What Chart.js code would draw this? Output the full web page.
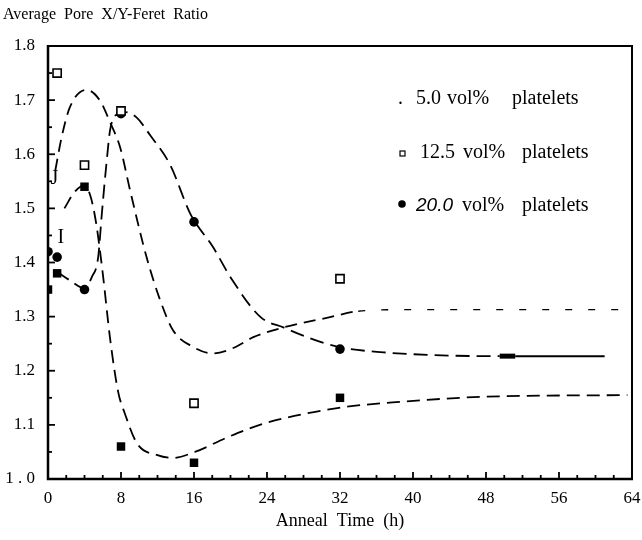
<!DOCTYPE html>
<html>
<head>
<meta charset="utf-8">
<script src="https://cdn.jsdelivr.net/npm/chart.js@4.4.0/dist/chart.umd.min.js"></script>
<style>
  html, body { margin: 0; padding: 0; background: #fff; }
  canvas { display: block; }
</style>
</head>
<body>
<canvas id="c" width="642" height="540"></canvas>
<script>
// ---- data ----
const xTickValues = [0, 8, 16, 24, 32, 40, 48, 56, 64];
const yTickLabels = ['1 . 0', '1.1', '1.2', '1.3', '1.4', '1.5', '1.6', '1.7', '1.8'];

// measured points
const time5 = [0, 1, 4, 8, 16, 32];
const ratio5 = [1.35, 1.38, 1.54, 1.06, 1.03, 1.15];
const time125 = [1, 4, 8, 16, 32];
const ratio125 = [1.75, 1.58, 1.68, 1.14, 1.37];
const time20 = [0, 1, 4, 8, 16, 32];
const ratio20 = [1.42, 1.41, 1.35, 1.675, 1.475, 1.24];

// fitted (dashed) curves
const fitTime125 = [0.8, 1.5, 2.4, 4.2, 5.7, 6.8, 7.9, 9.0, 10.8, 12.3, 13.7, 15.9, 18.1, 20.3, 22.5, 25.8, 30.9, 34, 40, 63];
const fit125 = [1.57, 1.632, 1.687, 1.719, 1.699, 1.659, 1.613, 1.533, 1.41, 1.33, 1.275, 1.244, 1.232, 1.242, 1.262, 1.28, 1.299, 1.31, 1.313, 1.313];
const fitTime20 = [1, 2.4, 4, 4.8, 5.5, 5.9, 6.4, 6.8, 7.4, 8.4, 9.7, 11.2, 13.4, 15.6, 18.1, 20.1, 23.3, 25.8, 28.4, 31.8, 36.8, 44, 49.5, 51.2, 61];
const fit20 = [1.383, 1.367, 1.352, 1.373, 1.41, 1.49, 1.582, 1.644, 1.672, 1.678, 1.668, 1.635, 1.58, 1.49, 1.428, 1.37, 1.299, 1.28, 1.262, 1.244, 1.234, 1.228, 1.227, 1.227, 1.227];
const fitTime5 = [1.8, 2.9, 4, 4.7, 5.3, 6, 6.8, 7.7, 8.4, 9.75, 12, 13.7, 16.1, 19.8, 23.8, 31.7, 39, 47.9, 63.5];
const fit5 = [1.5, 1.53, 1.543, 1.52, 1.47, 1.38, 1.26, 1.16, 1.122, 1.066, 1.044, 1.039, 1.05, 1.078, 1.103, 1.131, 1.143, 1.152, 1.155];

const titleText = 'Average  Pore  X/Y-Feret  Ratio';
const xTitle = 'Anneal  Time  (h)';

const pts = (xs, ys) => xs.map((x, i) => ({ x: x, y: ys[i] }));
const SERIF = '"Liberation Serif", "Times New Roman", serif';

const decor = {
  id: 'decor',
  afterDatasetsDraw(chart) {
    const ctx = chart.ctx;
    const a = chart.chartArea;
    const xs = chart.scales.x, ys = chart.scales.y;
    ctx.save();
    ctx.strokeStyle = '#000';
    ctx.lineCap = 'butt';
    // frame
    ctx.lineWidth = 2;
    ctx.beginPath();
    ctx.moveTo(a.left, a.top); ctx.lineTo(a.right, a.top); ctx.lineTo(a.right, a.bottom);
    ctx.stroke();
    ctx.lineWidth = 2.5;
    ctx.beginPath();
    ctx.moveTo(a.left, a.top - 1); ctx.lineTo(a.left, a.bottom); ctx.lineTo(a.right + 1, a.bottom);
    ctx.stroke();
    // inward ticks
    ctx.lineWidth = 1.8;
    for (let k = 0; k <= 16; k++) {
      const v = 1 + k * 0.05;
      const y = ys.getPixelForValue(v);
      const len = (k % 2 === 0) ? 7 : 4;
      ctx.beginPath(); ctx.moveTo(a.left, y); ctx.lineTo(a.left + len, y); ctx.stroke();
    }
    for (let t = 0; t <= 64; t += 2) {
      const x = xs.getPixelForValue(t);
      const len = (t % 8 === 0) ? 7 : 4;
      ctx.beginPath(); ctx.moveTo(x, a.bottom); ctx.lineTo(x, a.bottom - len); ctx.stroke();
    }
    // title
    ctx.fillStyle = '#000';
    ctx.textBaseline = 'alphabetic';
    ctx.textAlign = 'left';
    ctx.font = '16px ' + SERIF;
    ctx.fillText(titleText, 3, 19);
    // stray letters in the plot
    ctx.font = '20px ' + SERIF;
    ctx.textAlign = 'center';
    ctx.textBaseline = 'middle';
    ctx.fillText('J', xs.getPixelForValue(0.7), ys.getPixelForValue(1.555));
    ctx.fillText('I', xs.getPixelForValue(1.4), ys.getPixelForValue(1.446));
    // legend
    ctx.textAlign = 'left';
    ctx.textBaseline = 'alphabetic';
    const f = '20px ' + SERIF;
    ctx.font = f;
    ctx.fillText('.', 398, 104);
    ctx.fillText('5.0', 416, 104);
    ctx.fillText('vol%', 447, 104);
    ctx.fillText('platelets', 512, 104);
    // small open square
    ctx.lineWidth = 1.2;
    ctx.fillStyle = '#fff';
    ctx.fillRect(400, 151, 5, 5);
    ctx.strokeRect(400, 151, 5, 5);
    ctx.fillStyle = '#000';
    ctx.fillText('12.5', 420, 158);
    ctx.fillText('vol%', 463, 158);
    ctx.fillText('platelets', 522, 158);
    // filled dot
    ctx.beginPath(); ctx.arc(402, 204, 3.8, 0, Math.PI * 2); ctx.fill();
    ctx.font = 'italic 19px "Liberation Sans", Arial, sans-serif';
    ctx.fillText('20.0', 416, 211);
    ctx.font = f;
    ctx.fillText('vol%', 462, 211);
    ctx.fillText('platelets', 522, 211);
    ctx.restore();
  }
};

new Chart(document.getElementById('c'), {
  type: 'scatter',
  data: {
    datasets: [
      { label: '12.5 vol% platelets', data: pts(time125, ratio125), pointStyle: 'rect', pointRadius: 5.8,
        backgroundColor: '#fff', borderColor: '#000', borderWidth: 1.6, showLine: false },
      { label: '5.0 vol% platelets', data: pts(time5, ratio5), pointStyle: 'rect', pointRadius: 6,
        backgroundColor: '#000', borderColor: '#000', borderWidth: 0, showLine: false },
      { label: '20.0 vol% platelets', data: pts(time20, ratio20), pointStyle: 'circle', pointRadius: 4.8,
        backgroundColor: '#000', borderColor: '#000', borderWidth: 0, showLine: false },
      { label: 'fit 12.5', data: pts(fitTime125, fit125), showLine: true, pointRadius: 0,
        borderColor: '#000', borderWidth: 1.8, cubicInterpolationMode: 'monotone', fill: false,
        segment: { borderDash: c => (c.p0.parsed.x >= 34 ? [7, 16] : [12, 7]), borderWidth: c => (c.p0.parsed.x >= 34 ? 1.4 : 1.8) } },
      { label: 'fit 20.0', data: pts(fitTime20, fit20), showLine: true, pointRadius: 0,
        borderColor: '#000', borderWidth: 1.8, cubicInterpolationMode: 'monotone', fill: false,
        segment: {
          borderDash: c => (c.p0.parsed.x >= 49.5 ? [] : [14, 7]),
          borderWidth: c => (c.p0.parsed.x >= 51 ? 2 : (c.p0.parsed.x >= 49.5 ? 5 : 1.8))
        } },
      { label: 'fit 5.0', data: pts(fitTime5, fit5), showLine: true, pointRadius: 0,
        borderColor: '#000', borderWidth: 1.8, borderDash: [13, 7], cubicInterpolationMode: 'monotone', fill: false }
    ]
  },
  options: {
    responsive: false,
    animation: false,
    devicePixelRatio: 1,
    layout: { padding: { left: 0, right: 10, top: 46, bottom: 0 } },
    plugins: { legend: { display: false }, tooltip: { enabled: false } },
    scales: {
      x: {
        type: 'linear', min: 0, max: 64,
        afterBuildTicks: s => { s.ticks = xTickValues.map(v => ({ value: v })); },
        ticks: { color: '#000', font: { family: SERIF, size: 17 }, padding: 9, maxRotation: 0, autoSkip: false },
        grid: { display: false, drawTicks: false },
        border: { display: false },
        title: { display: true, text: xTitle, color: '#000', font: { family: SERIF, size: 18 }, padding: { top: 0, bottom: 8 } },
        afterFit: s => { s.height = 61; s.paddingLeft = 0; s.paddingRight = 0; }
      },
      y: {
        type: 'linear', min: 1, max: 1.8,
        ticks: { stepSize: 0.1, color: '#000', font: { family: SERIF, size: 17 }, padding: 13,
          callback: v => yTickLabels[Math.round((v - 1) * 10)] },
        grid: { display: false, drawTicks: false },
        border: { display: false },
        afterFit: s => { s.width = 48; s.paddingTop = 0; s.paddingBottom = 0; }
      }
    }
  },
  plugins: [decor]
});
</script>
</body>
</html>
